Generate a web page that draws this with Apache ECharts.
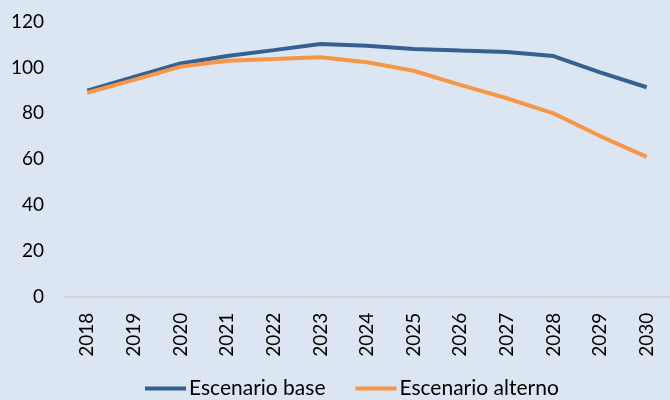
<!DOCTYPE html>
<html>
<head>
<meta charset="utf-8">
<script src="https://cdn.jsdelivr.net/npm/echarts@6/dist/echarts.min.js"></script>
<style>
  html, body { margin: 0; padding: 0; background: #dce6f2; }
  #chart { width: 670px; height: 400px; }
</style>
</head>
<body>
<div id="chart"></div>
<script>
// Years on the horizontal axis
const years = ['2018', '2019', '2020', '2021', '2022', '2023', '2024',
               '2025', '2026', '2027', '2028', '2029', '2030'];

// Index values per scenario
const baseScenario = [89.9, 95.9, 101.8, 105.0, 107.6, 110.3, 109.5,
                      108.1, 107.4, 106.8, 105.0, 97.9, 91.4];
const altScenario  = [89.0, 94.6, 100.4, 103.0, 103.7, 104.5, 102.3,
                      98.6, 92.4, 86.6, 80.0, 70.1, 61.0];

const seriesNames = ['Escenario base', 'Escenario alterno'];
const yTicks = { min: 0, max: 120, interval: 20 };

const FONT = 'Lato, "Open Sans", sans-serif';

const chart = echarts.init(document.getElementById('chart'), null, { renderer: 'canvas' });

chart.setOption({
  backgroundColor: '#dce6f2',
  animation: false,
  textStyle: { fontFamily: FONT },
  grid: { left: 64, right: -11.5, top: 21.7, bottom: 103.3, containLabel: false },
  legend: {
    left: 140,
    bottom: -4,
    icon: 'rect',
    itemWidth: 41,
    itemHeight: 4,
    itemGap: 30,
    textStyle: { fontFamily: FONT, fontSize: 21, color: '#000', padding: [0, 0, 0, -2] },
    data: seriesNames
  },
  xAxis: {
    type: 'category',
    data: years,
    boundaryGap: true,
    axisTick: { show: false },
    axisLine: { lineStyle: { color: '#d4d4d4', width: 2 } },
    axisLabel: { rotate: 90, margin: 16, fontSize: 19, color: '#000', fontFamily: FONT }
  },
  yAxis: {
    type: 'value',
    min: yTicks.min,
    max: yTicks.max,
    interval: yTicks.interval,
    splitLine: { show: false },
    axisLine: { show: false },
    axisTick: { show: false },
    axisLabel: { margin: 20, fontSize: 19, color: '#000', fontFamily: FONT }
  },
  series: [
    {
      name: seriesNames[0],
      type: 'line',
      data: baseScenario,
      symbol: 'none',
      lineStyle: { color: '#376092', width: 4 },
      itemStyle: { color: '#376092' }
    },
    {
      name: seriesNames[1],
      type: 'line',
      data: altScenario,
      symbol: 'none',
      lineStyle: { color: '#f79646', width: 4 },
      itemStyle: { color: '#f79646' }
    }
  ]
});
</script>
</body>
</html>
